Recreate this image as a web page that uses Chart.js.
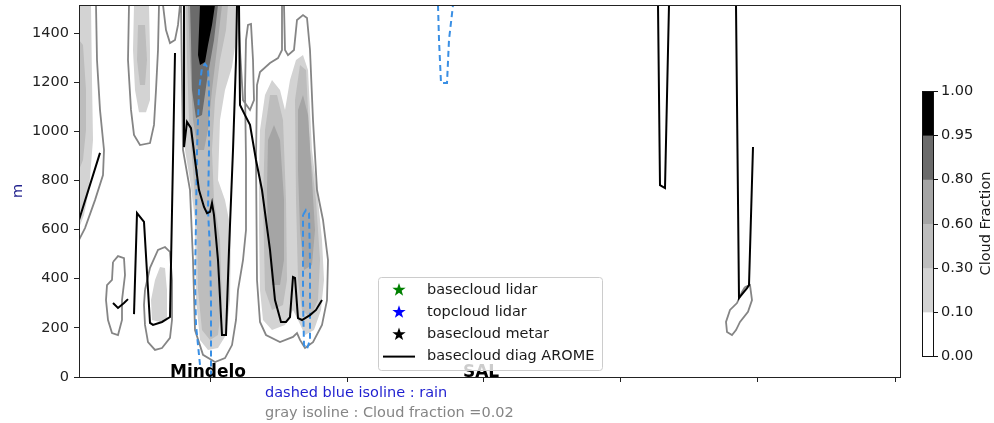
<!DOCTYPE html>
<html>
<head>
<meta charset="utf-8">
<script src="https://cdn.jsdelivr.net/npm/chart.js@4.4.1/dist/chart.umd.min.js"></script>
<style>
  html, body { margin: 0; padding: 0; background: #fff; }
  #wrap { width: 994px; height: 423px; }
</style>
</head>
<body>
<div id="wrap"><canvas id="cloudChart" width="994" height="423"></canvas></div>
<script>
// along-track distance (km) / height (m)
const xMax = 822;
const yMax = 1514;
const xTickKm = [131, 268, 404, 541, 678, 816];
const stations = ['Mindelo', 'SAL'];
const stationKm = [129, 402];

// colorbar
const cfLevels = ['0.00', '0.10', '0.30', '0.60', '0.80', '0.95', '1.00'];
const cfColors = ['#ffffff', '#d3d3d3', '#bdbdbd', '#a5a5a5', '#6b6b6b', '#000000'];

// filled cloud fraction contours (null = new piece)
const cf010X = [0, 12, 13, 14, 10, 5, 0, null,
  55, 70, 71, 71, 67, 60, 56, 54, null,
  104, 158, 157, 153, 146, 141, 139, 146, 152, 151, 147, 139, 129, 121, 117, 116, 111, 106, 104, null,
  181, 186, 193, 201, 206, 211, 217, 224, 229, 233, 239, 243, 245, 242, 235, 226, 219, 214, 206, 193, 184, 181, 180, 180, null,
  73, 72, 76, 81, 86, 88, 88, 81];
const cf010Y = [1514, 1514, 1209, 965, 761, 659, 606, null,
  1514, 1514, 1331, 1127, 1078, 1078, 1168, 1331, null,
  1514, 1514, 1372, 1262, 1168, 1046, 802, 720, 598, 313, 171, 118, 110, 151, 313, 639, 802, 924, 1168, null,
  1005, 1148, 1209, 1168, 1087, 1209, 1290, 1310, 1249, 924, 720, 558, 395, 273, 191, 171, 232, 273, 212, 191, 232, 354, 598, 842, null,
  232, 313, 395, 448, 444, 354, 232, 224];

const cf030X = [0, 4, 7, 7, 4, 0, null,
  59, 66, 68, 66, 61, 58, null,
  107, 149, 147, 141, 136, 133, 135, 141, 143, 139, 131, 123, 119, 118, 114, 110, 108, null,
  186, 191, 198, 204, 207, 208, 204, 193, 186, 184, null,
  216, 221, 227, 231, 237, 241, 239, 231, 223, 219, 217];
const cf030Y = [1372, 1351, 1168, 1005, 883, 842, null,
  1433, 1433, 1290, 1188, 1188, 1290, null,
  1514, 1514, 1412, 1290, 1127, 924, 720, 558, 313, 171, 151, 191, 354, 598, 842, 1046, 1290, null,
  1005, 1148, 1148, 1046, 720, 395, 293, 273, 354, 720, null,
  1127, 1270, 1249, 924, 720, 476, 313, 240, 273, 395, 720];

const cf060X = [109, 143, 139, 133, 129, 125, 119, 114, 111, null,
  189, 195, 201, 205, 205, 201, 193, 189, 188, null,
  219, 224, 229, 233, 236, 233, 225, 221, 219];
const cf060Y = [1514, 1514, 1372, 1168, 1005, 924, 924, 1046, 1290, null,
  965, 1026, 965, 720, 476, 374, 374, 558, 761, null,
  1087, 1148, 1066, 802, 598, 456, 435, 598, 842];

const cf080X = [111, 139, 135, 128, 123, 117, 113, 112];
const cf080Y = [1514, 1514, 1372, 1209, 1066, 1054, 1168, 1372];

const cf095X = [121, 136, 133, 129, 126, 121, 119, 120];
const cf095Y = [1514, 1514, 1433, 1351, 1282, 1270, 1310, 1412];

// gray isoline cloud fraction = 0.02
const iso002X = [17, 18, 21, 25, 24, 16, 6, 0, null,
  50, 49, 52, 55, 61, 71, 75, 77, 79, 80, null,
  84, 87, 91, 96, 99, 101, null,
  102, 103, 104, 111, 114, 116, 124, 136, 146, 153, 157, 159, 164, 167, 167, 166, 167, 169, 172, 174, 175, 171, 164, 161, 159, null,
  203, 203, 199, 191, 181, 178, 177, 178, 181, 187, 201, 214, 218, 221, 226, 234, 243, 248, 249, 244, 238, 234, 231, 228, 224, 218, 215, 209, 206, 205, null,
  34, 39, 45, 46, 43, 43, 39, 33, 29, 27, 28, 33, 34, null,
  66, 71, 79, 86, 91, 93, 93, 91, 83, 76, 69, 66, 65, 66, null,
  666, 671, 673, 669, 661, 657, 653, 648, 647, 651, 658, 663, 666];
const iso002Y = [1514, 1290, 1087, 924, 822, 720, 606, 558, null,
  1514, 1290, 1087, 985, 944, 952, 1026, 1168, 1331, 1514, null,
  1514, 1412, 1359, 1372, 1433, 1514, null,
  1514, 1209, 924, 761, 476, 191, 90, 61, 77, 130, 232, 354, 476, 598, 883, 1168, 1372, 1433, 1437, 1290, 1127, 1087, 1127, 1331, 1514, null,
  1514, 1331, 1298, 1278, 1241, 1188, 883, 395, 224, 171, 142, 163, 179, 151, 118, 142, 212, 313, 476, 639, 761, 1046, 1331, 1461, 1473, 1453, 1331, 1310, 1331, 1514, null,
  468, 492, 484, 415, 313, 232, 171, 179, 232, 313, 374, 395, 468, null,
  354, 444, 517, 529, 509, 395, 232, 159, 118, 110, 142, 212, 293, 354, null,
  366, 374, 313, 265, 224, 191, 171, 183, 224, 273, 301, 346, 366];

// dashed blue isoline: rain
const rainX = [121, 117, 116, 117, 118, 120, 123, 126, 129, 130, 130, 129, 131, 132, 132, null,
  224, 227, 230, 231, 231, 228, 225, 224, 224, null,
  359, 360, 362, 368, 370, 374];
const rainY = [49, 212, 395, 639, 924, 1168, 1258, 1274, 1258, 1168, 924, 680, 517, 313, 0, null,
  659, 680, 667, 476, 151, 114, 130, 313, 659, null,
  1514, 1372, 1197, 1197, 1372, 1514];

// basecloud diag AROME
const baseDiagX = [0, 21, null,
  34, 39, 45, 49, null,
  55, 58, 65, 71, 74, 83, 91, 96, null,
  105, 105, 108, 112, 116, 120, 125, 128, 131, 133, 135, 139, 143, 147, 150, 154, 157, 158, 160, 161, 166, 171, 177, 183, 191, 196, 202, 207, 211, 214, 216, 219, 223, 231, 237, 243, null,
  579, 581, 586, 590, null,
  657, 660, 668, 670, 674];
const baseDiagY = [639, 912, null,
  301, 281, 301, 317, null,
  256, 667, 631, 220, 212, 224, 244, 1319, null,
  1514, 936, 1038, 1013, 883, 761, 692, 667, 672, 708, 659, 476, 171, 171, 517, 924, 1290, 1514, 1514, 1107, 1066, 1026, 883, 761, 517, 313, 224, 224, 244, 407, 403, 240, 232, 252, 273, 313, null,
  1514, 781, 769, 1514, null,
  1514, 322, 362, 374, 936];

const pts = (xs, ys) => xs.map((x, i) => ({ x: x, y: ys[i] }));
const FONT = '"DejaVu Sans"';

function fillSet(label, xs, ys, color, order) {
    return {
        label: label,
        data: pts(xs, ys),
        order: order,
        backgroundColor: color,
        borderColor: color,
        borderWidth: 0,
        fill: 'shape',
        pointRadius: 0,
        tension: 0
    };
}

function drawStar(ctx, cx, cy, r, color) {
    ctx.beginPath();
    for (let i = 0; i < 10; i++) {
        const a = -Math.PI / 2 + i * Math.PI / 5;
        const rr = i % 2 ? r * 0.4 : r;
        ctx.lineTo(cx + rr * Math.cos(a), cy + rr * Math.sin(a));
    }
    ctx.closePath();
    ctx.fillStyle = color;
    ctx.fill();
}

const overlay = {
    id: 'overlay',
    afterDatasetsDraw(chart) {
        const { ctx, chartArea: a } = chart;
        ctx.save();
        ctx.strokeStyle = '#222';
        ctx.lineWidth = 1;
        ctx.strokeRect(a.left + 0.5, a.top + 0.5, a.right - a.left - 1, a.bottom - a.top);
        ctx.restore();
    },
    afterDraw(chart) {
        const { ctx, scales } = chart;
        ctx.save();

        // station names on the axis
        ctx.font = 'bold 17px ' + FONT;
        ctx.fillStyle = '#000';
        ctx.textAlign = 'center';
        ctx.textBaseline = 'alphabetic';
        stations.forEach((s, i) => {
            ctx.fillText(s, scales.x.getPixelForValue(stationKm[i]), scales.y.getPixelForValue(0));
        });

        // legend box
        const bx = 378, by = 277, bw = 224, bh = 93;
        ctx.beginPath();
        ctx.roundRect(bx + 0.5, by + 0.5, bw, bh, 3);
        ctx.fillStyle = 'rgba(255,255,255,0.8)';
        ctx.fill();
        ctx.strokeStyle = '#cccccc';
        ctx.lineWidth = 1;
        ctx.stroke();
        ctx.font = '14.5px ' + FONT;
        ctx.textAlign = 'left';
        ctx.textBaseline = 'middle';
        const entries = chart.data.datasets.filter(d => d.legendMarker);
        entries.forEach((d, i) => {
            const y = 290 + i * 22.2;
            if (d.legendMarker === 'star') {
                drawStar(ctx, 399, y, 7, d.borderColor);
            } else {
                ctx.strokeStyle = d.borderColor;
                ctx.lineWidth = 2;
                ctx.beginPath();
                ctx.moveTo(383, y);
                ctx.lineTo(415, y);
                ctx.stroke();
            }
            ctx.fillStyle = '#1a1a1a';
            ctx.fillText(d.label, 427, y);
        });

        // notes below the axis
        ctx.fillStyle = '#1f1fd0';
        ctx.fillText('dashed blue isoline : rain', 265, 393);
        ctx.fillStyle = '#858585';
        ctx.fillText('gray isoline : Cloud fraction =0.02', 265, 413);

        // colorbar
        const cx = 922, cw = 11, top = 91, bottom = 356;
        const step = (bottom - top) / cfColors.length;
        cfColors.forEach((c, i) => {
            ctx.fillStyle = c;
            ctx.fillRect(cx, bottom - (i + 1) * step, cw, step + 0.5);
        });
        ctx.strokeStyle = '#111';
        ctx.lineWidth = 1;
        ctx.strokeRect(cx + 0.5, top + 0.5, cw, bottom - top);
        ctx.fillStyle = '#1a1a1a';
        cfLevels.forEach((lab, i) => {
            const y = Math.round(bottom - i * step) + 0.5;
            ctx.beginPath();
            ctx.moveTo(cx + cw + 0.5, y);
            ctx.lineTo(cx + cw + 5, y);
            ctx.stroke();
            ctx.fillText(lab, cx + cw + 8, y);
        });
        ctx.translate(986, (top + bottom) / 2);
        ctx.rotate(-Math.PI / 2);
        ctx.textAlign = 'center';
        ctx.fillText('Cloud Fraction', 0, 0);
        ctx.restore();
    }
};

const ctx = document.getElementById('cloudChart').getContext('2d');

new Chart(ctx, {
    type: 'line',
    data: {
        datasets: [
            {
                label: 'basecloud lidar', data: [], legendMarker: 'star',
                borderColor: '#008000', backgroundColor: '#008000', order: 20
            },
            {
                label: 'topcloud lidar', data: [], legendMarker: 'star',
                borderColor: '#0000ff', backgroundColor: '#0000ff', order: 21
            },
            {
                label: 'basecloud metar', data: [], legendMarker: 'star',
                borderColor: '#000000', backgroundColor: '#000000', order: 22
            },
            {
                label: 'basecloud diag AROME', data: pts(baseDiagX, baseDiagY), legendMarker: 'line',
                borderColor: '#000000', borderWidth: 2, pointRadius: 0, fill: false, tension: 0, order: 0
            },
            {
                label: 'rain', data: pts(rainX, rainY),
                borderColor: '#3a8fe4', borderWidth: 2, borderDash: [6, 4], pointRadius: 0, fill: false, tension: 0, order: 1
            },
            {
                label: 'cf 0.02', data: pts(iso002X, iso002Y),
                borderColor: '#858585', borderWidth: 1.8, pointRadius: 0, fill: false, tension: 0, order: 2
            },
            fillSet('cf 0.95', cf095X, cf095Y, cfColors[5], 3),
            fillSet('cf 0.80', cf080X, cf080Y, cfColors[4], 4),
            fillSet('cf 0.60', cf060X, cf060Y, cfColors[3], 5),
            fillSet('cf 0.30', cf030X, cf030Y, cfColors[2], 6),
            fillSet('cf 0.10', cf010X, cf010Y, cfColors[1], 7)
        ]
    },
    options: {
        responsive: false,
        animation: false,
        layout: { padding: { left: 0, right: 93, top: 5, bottom: 0 } },
        plugins: {
            legend: { display: false },
            tooltip: { enabled: false }
        },
        scales: {
            x: {
                type: 'linear',
                min: 0,
                max: xMax,
                afterBuildTicks: s => { s.ticks = xTickKm.map(v => ({ value: v })); },
                afterFit: s => { s.height = 46; s.paddingLeft = 0; s.paddingRight = 0; },
                border: { display: false },
                grid: { drawOnChartArea: false, drawTicks: true, tickLength: 5, color: '#222' },
                ticks: { callback: () => '', autoSkip: false }
            },
            y: {
                min: 0,
                max: yMax,
                afterFit: s => { s.width = 79; s.paddingTop = 0; s.paddingBottom = 0; },
                border: { display: false },
                grid: { drawOnChartArea: false, drawTicks: true, tickLength: 5, color: '#222' },
                ticks: {
                    stepSize: 200,
                    includeBounds: false,
                    color: '#222',
                    padding: 5,
                    font: { family: 'DejaVu Sans', size: 14.5 },
                    callback: v => String(v)
                },
                title: {
                    display: true,
                    text: 'm',
                    color: '#23238e',
                    padding: { top: 10, bottom: 0 },
                    font: { family: 'DejaVu Sans', size: 14.5 }
                }
            }
        }
    },
    plugins: [overlay]
});
</script>
</body>
</html>
